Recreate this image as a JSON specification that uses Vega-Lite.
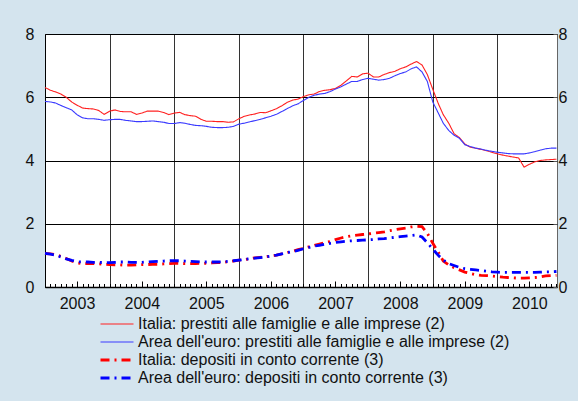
{
 "$schema": "https://vega.github.io/schema/vega-lite/v6.json",
 "width": 512, "height": 253,
 "autosize": {"type": "none"},
 "padding": {"left": 45, "top": 34, "right": 21, "bottom": 114},
 "background": "#d4e4ee",
 "config": {"view": {"fill": "white", "stroke": "#666", "strokeWidth": 1}, "font": "Liberation Sans"},
 "data": {"values": [
{"t":"2003-01-01","a":6.31,"b":5.87,"c":1.06,"d":1.06},
{"t":"2003-02-01","a":6.22,"b":5.85,"c":1.05,"d":1.04},
{"t":"2003-03-01","a":6.17,"b":5.82,"c":1.02,"d":1.01},
{"t":"2003-04-01","a":6.10,"b":5.74,"c":0.97,"d":0.95},
{"t":"2003-05-01","a":6.00,"b":5.67,"c":0.90,"d":0.89},
{"t":"2003-06-01","a":5.85,"b":5.60,"c":0.82,"d":0.84},
{"t":"2003-07-01","a":5.75,"b":5.45,"c":0.76,"d":0.80},
{"t":"2003-08-01","a":5.66,"b":5.35,"c":0.74,"d":0.79},
{"t":"2003-09-01","a":5.64,"b":5.32,"c":0.74,"d":0.79},
{"t":"2003-10-01","a":5.63,"b":5.32,"c":0.74,"d":0.78},
{"t":"2003-11-01","a":5.58,"b":5.30,"c":0.73,"d":0.78},
{"t":"2003-12-01","a":5.46,"b":5.27,"c":0.72,"d":0.77},
{"t":"2004-01-01","a":5.56,"b":5.29,"c":0.71,"d":0.77},
{"t":"2004-02-01","a":5.60,"b":5.30,"c":0.70,"d":0.78},
{"t":"2004-03-01","a":5.55,"b":5.30,"c":0.70,"d":0.79},
{"t":"2004-04-01","a":5.54,"b":5.27,"c":0.69,"d":0.79},
{"t":"2004-05-01","a":5.54,"b":5.25,"c":0.69,"d":0.78},
{"t":"2004-06-01","a":5.46,"b":5.23,"c":0.70,"d":0.78},
{"t":"2004-07-01","a":5.50,"b":5.23,"c":0.71,"d":0.78},
{"t":"2004-08-01","a":5.56,"b":5.24,"c":0.71,"d":0.79},
{"t":"2004-09-01","a":5.56,"b":5.25,"c":0.72,"d":0.80},
{"t":"2004-10-01","a":5.56,"b":5.23,"c":0.72,"d":0.81},
{"t":"2004-11-01","a":5.52,"b":5.21,"c":0.73,"d":0.82},
{"t":"2004-12-01","a":5.45,"b":5.17,"c":0.74,"d":0.83},
{"t":"2005-01-01","a":5.50,"b":5.17,"c":0.75,"d":0.83},
{"t":"2005-02-01","a":5.52,"b":5.20,"c":0.75,"d":0.83},
{"t":"2005-03-01","a":5.45,"b":5.18,"c":0.74,"d":0.82},
{"t":"2005-04-01","a":5.42,"b":5.14,"c":0.74,"d":0.81},
{"t":"2005-05-01","a":5.40,"b":5.11,"c":0.74,"d":0.80},
{"t":"2005-06-01","a":5.30,"b":5.10,"c":0.75,"d":0.79},
{"t":"2005-07-01","a":5.24,"b":5.08,"c":0.75,"d":0.79},
{"t":"2005-08-01","a":5.24,"b":5.05,"c":0.76,"d":0.79},
{"t":"2005-09-01","a":5.23,"b":5.04,"c":0.77,"d":0.79},
{"t":"2005-10-01","a":5.23,"b":5.04,"c":0.78,"d":0.80},
{"t":"2005-11-01","a":5.21,"b":5.05,"c":0.80,"d":0.81},
{"t":"2005-12-01","a":5.22,"b":5.08,"c":0.82,"d":0.83},
{"t":"2006-01-01","a":5.32,"b":5.15,"c":0.85,"d":0.85},
{"t":"2006-02-01","a":5.40,"b":5.18,"c":0.87,"d":0.87},
{"t":"2006-03-01","a":5.44,"b":5.22,"c":0.89,"d":0.89},
{"t":"2006-04-01","a":5.47,"b":5.26,"c":0.92,"d":0.91},
{"t":"2006-05-01","a":5.52,"b":5.30,"c":0.94,"d":0.93},
{"t":"2006-06-01","a":5.51,"b":5.35,"c":0.96,"d":0.95},
{"t":"2006-07-01","a":5.57,"b":5.40,"c":0.98,"d":0.98},
{"t":"2006-08-01","a":5.64,"b":5.46,"c":1.01,"d":1.01},
{"t":"2006-09-01","a":5.73,"b":5.55,"c":1.05,"d":1.05},
{"t":"2006-10-01","a":5.84,"b":5.64,"c":1.09,"d":1.09},
{"t":"2006-11-01","a":5.91,"b":5.73,"c":1.13,"d":1.12},
{"t":"2006-12-01","a":5.94,"b":5.79,"c":1.18,"d":1.16},
{"t":"2007-01-01","a":6.02,"b":5.90,"c":1.22,"d":1.21},
{"t":"2007-02-01","a":6.08,"b":6.00,"c":1.27,"d":1.25},
{"t":"2007-03-01","a":6.10,"b":6.06,"c":1.31,"d":1.29},
{"t":"2007-04-01","a":6.18,"b":6.10,"c":1.36,"d":1.32},
{"t":"2007-05-01","a":6.22,"b":6.12,"c":1.40,"d":1.35},
{"t":"2007-06-01","a":6.24,"b":6.18,"c":1.44,"d":1.38},
{"t":"2007-07-01","a":6.28,"b":6.26,"c":1.50,"d":1.41},
{"t":"2007-08-01","a":6.38,"b":6.33,"c":1.55,"d":1.43},
{"t":"2007-09-01","a":6.52,"b":6.42,"c":1.59,"d":1.45},
{"t":"2007-10-01","a":6.66,"b":6.50,"c":1.62,"d":1.46},
{"t":"2007-11-01","a":6.64,"b":6.50,"c":1.64,"d":1.47},
{"t":"2007-12-01","a":6.74,"b":6.56,"c":1.66,"d":1.48},
{"t":"2008-01-01","a":6.76,"b":6.60,"c":1.68,"d":1.49},
{"t":"2008-02-01","a":6.64,"b":6.57,"c":1.70,"d":1.50},
{"t":"2008-03-01","a":6.64,"b":6.54,"c":1.72,"d":1.52},
{"t":"2008-04-01","a":6.72,"b":6.56,"c":1.74,"d":1.53},
{"t":"2008-05-01","a":6.78,"b":6.60,"c":1.78,"d":1.55},
{"t":"2008-06-01","a":6.82,"b":6.68,"c":1.81,"d":1.57},
{"t":"2008-07-01","a":6.90,"b":6.75,"c":1.84,"d":1.59},
{"t":"2008-08-01","a":6.96,"b":6.80,"c":1.86,"d":1.61},
{"t":"2008-09-01","a":7.05,"b":6.90,"c":1.90,"d":1.63},
{"t":"2008-10-01","a":7.13,"b":6.96,"c":1.92,"d":1.65},
{"t":"2008-11-01","a":7.02,"b":6.80,"c":1.91,"d":1.58},
{"t":"2008-12-01","a":6.72,"b":6.50,"c":1.70,"d":1.40},
{"t":"2009-01-01","a":6.25,"b":5.85,"c":1.38,"d":1.20},
{"t":"2009-02-01","a":5.80,"b":5.50,"c":1.10,"d":1.00},
{"t":"2009-03-01","a":5.45,"b":5.18,"c":0.82,"d":0.85},
{"t":"2009-04-01","a":5.18,"b":4.95,"c":0.70,"d":0.74},
{"t":"2009-05-01","a":4.85,"b":4.80,"c":0.61,"d":0.68},
{"t":"2009-06-01","a":4.72,"b":4.70,"c":0.54,"d":0.62},
{"t":"2009-07-01","a":4.52,"b":4.50,"c":0.47,"d":0.58},
{"t":"2009-08-01","a":4.42,"b":4.44,"c":0.43,"d":0.56},
{"t":"2009-09-01","a":4.39,"b":4.39,"c":0.39,"d":0.54},
{"t":"2009-10-01","a":4.35,"b":4.36,"c":0.37,"d":0.52},
{"t":"2009-11-01","a":4.31,"b":4.32,"c":0.36,"d":0.50},
{"t":"2009-12-01","a":4.26,"b":4.29,"c":0.35,"d":0.48},
{"t":"2010-01-01","a":4.21,"b":4.26,"c":0.33,"d":0.47},
{"t":"2010-02-01","a":4.17,"b":4.24,"c":0.31,"d":0.46},
{"t":"2010-03-01","a":4.14,"b":4.22,"c":0.30,"d":0.46},
{"t":"2010-04-01","a":4.11,"b":4.21,"c":0.29,"d":0.46},
{"t":"2010-05-01","a":4.08,"b":4.21,"c":0.28,"d":0.46},
{"t":"2010-06-01","a":3.79,"b":4.21,"c":0.28,"d":0.46},
{"t":"2010-07-01","a":3.88,"b":4.24,"c":0.29,"d":0.46},
{"t":"2010-08-01","a":3.96,"b":4.28,"c":0.30,"d":0.46},
{"t":"2010-09-01","a":4.00,"b":4.33,"c":0.32,"d":0.47},
{"t":"2010-10-01","a":4.02,"b":4.37,"c":0.35,"d":0.48},
{"t":"2010-11-01","a":4.03,"b":4.39,"c":0.36,"d":0.48},
{"t":"2010-12-01","a":4.04,"b":4.39,"c":0.37,"d":0.49}
 ]},
 "transform": [{"fold": ["a", "b", "c", "d"], "as": ["s", "v"]}],
 "encoding": {
  "x": {"field": "t", "type": "temporal",
   "scale": {"domain": [{"year": 2003, "month": 1, "date": 1}, {"year": 2010, "month": 12, "date": 4}]},
   "axis": {"title": null, "tickCount": {"interval": "month", "step": 1},
    "labelExpr": "month(datum.value)==6 ? timeFormat(datum.value,'%Y') : ''",
    "labelOverlap": false, "labelFlush": false, "labelBound": false,
    "labelFontSize": 16, "labelColor": "#111", "labelPadding": 14,
    "tickColor": "#000",
    "tickSize": {"condition": {"test": "month(datum.value)==6", "value": -6}, "value": -3.5},
    "grid": true, "gridColor": "#333",
    "gridOpacity": {"condition": {"test": "month(datum.value)==0", "value": 1}, "value": 0},
    "domainColor": "#000", "domainWidth": 1.5}}
 },
 "layer": [
  {"mark": {"type": "line"},
   "encoding": {
    "y": {"field": "v", "type": "quantitative", "scale": {"domain": [0, 8], "nice": false},
     "axis": {"title": null, "values": [0, 2, 4, 6, 8], "labelFontSize": 16, "labelColor": "#111", "labelPadding": 11, "ticks": false, "grid": true, "gridColor": "#000", "domainColor": "#000"}},
    "color": {"field": "s", "type": "nominal",
     "scale": {"domain": ["a", "b", "c", "d"], "range": ["#ff2020", "#3a3aff", "#ff0000", "#0000ff"]},
     "legend": {"orient": "none", "legendX": 64, "legendY": 282, "title": null,
      "labelExpr": "datum.label=='a'?'Italia: prestiti alle famiglie e alle imprese (2)':datum.label=='b'?\"Area dell'euro: prestiti alle famiglie e alle imprese (2)\":datum.label=='c'?'Italia: depositi in conto corrente (3)':\"Area dell'euro: depositi in conto corrente (3)\"",
      "labelFontSize": 16, "labelColor": "#111", "labelLimit": 0, "symbolType": "M-3,0H3", "symbolSize": 121, "labelOffset": 13, "rowPadding": 2, "padding": 0}},
    "strokeDash": {"field": "s", "type": "nominal",
     "scale": {"domain": ["a", "b", "c", "d"], "range": [[1, 0], [1, 0], [9, 5, 2, 5], [9, 5, 2, 5]]}},
    "strokeWidth": {"field": "s", "type": "nominal",
     "scale": {"type": "ordinal", "domain": ["a", "b", "c", "d"], "range": [1.1, 1.1, 2.8, 2.8]}}
   }},
  {"mark": {"type": "line", "opacity": 0},
   "encoding": {
    "detail": {"field": "s"},
    "y": {"field": "v", "type": "quantitative", "scale": {"domain": [0, 8], "nice": false},
     "axis": {"orient": "right", "title": null, "values": [0, 2, 4, 6, 8], "labelFontSize": 16, "labelColor": "#111", "labelPadding": 5, "tickSize": -4, "tickColor": "#555", "grid": false, "domain": false}}
   }}
 ],
 "resolve": {"axis": {"y": "independent"}}
}
